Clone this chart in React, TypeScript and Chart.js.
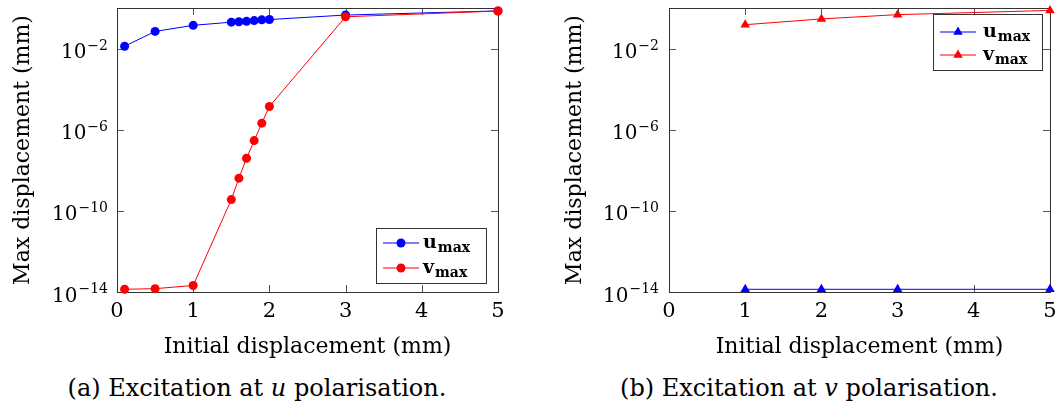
import React, { useEffect, useRef } from 'react';
import { Chart, registerables } from 'chart.js';

Chart.register(...registerables);

// ---------- data ----------
const xTickValues = [0, 1, 2, 3, 4, 5];
const yTickValues = [1e-14, 1e-10, 1e-6, 1e-2];
const yMin = 1e-14;
const yMax = 1;
const xMin = 0;
const xMax = 5;

// (a) excitation at u
const xA = [0.1, 0.5, 1, 1.5, 1.6, 1.7, 1.8, 1.9, 2, 3, 5];
const uA = [1.3e-2, 7e-2, 0.14, 0.2, 0.21, 0.22, 0.24, 0.26, 0.27, 0.45, 0.72];
const vA = [1.36e-14, 1.46e-14, 2.1e-14, 3.6e-10, 4.1e-9, 3.9e-8, 2.9e-7, 2.1e-6, 1.4e-5, 0.37, 0.71];

// (b) excitation at v
const xB = [1, 2, 3, 5];
const uB = [1.36e-14, 1.36e-14, 1.36e-14, 1.36e-14];
const vB = [0.15, 0.29, 0.47, 0.76];

const seriesNames = ['u', 'v'];
const seriesSub = 'max';
const xTitle = 'Initial displacement (mm)';
const yTitle = 'Max displacement (mm)';
const captionA = ['(a) Excitation at ', 'u', ' polarisation.'];
const captionB = ['(b) Excitation at ', 'v', ' polarisation.'];

// ---------- style ----------
const FONT = '"DejaVu Serif", serif';
const BLUE = '#0000ff';
const RED = '#ff0000';
const FRAME = '#333333';

const framePlugin = {
  id: 'frame',
  beforeDatasetsDraw(chart: any, _a: any, opts: any) {
    const { ctx, chartArea: ca, scales } = chart;
    const L = 7;
    ctx.save();
    ctx.lineWidth = 1;
    ctx.strokeStyle = '#555555';
    ctx.beginPath();
    for (const v of xTickValues) {
      const x = Math.round(scales.x.getPixelForValue(v)) + 0.5;
      ctx.moveTo(x, ca.bottom);
      ctx.lineTo(x, ca.bottom - L);
      ctx.moveTo(x, ca.top);
      ctx.lineTo(x, ca.top + L);
    }
    for (const v of yTickValues) {
      const y = Math.round(scales.y.getPixelForValue(v)) + 0.5;
      ctx.moveTo(ca.left, y);
      ctx.lineTo(ca.left + L, y);
      ctx.moveTo(ca.right, y);
      ctx.lineTo(ca.right - L, y);
    }
    ctx.stroke();
    ctx.strokeStyle = FRAME;
    ctx.strokeRect(
      Math.round(ca.left) + 0.5,
      Math.round(ca.top) + 0.5,
      Math.round(ca.right) - Math.round(ca.left),
      Math.round(ca.bottom) - Math.round(ca.top)
    );

    // y tick labels: 10^e with a real superscript
    const pad = opts.yTickPad || 9;
    ctx.fillStyle = '#000000';
    ctx.textBaseline = 'alphabetic';
    ctx.textAlign = 'left';
    for (const v of yTickValues) {
      const y = scales.y.getPixelForValue(v);
      const e = Math.round(Math.log10(v));
      const sup = (e < 0 ? '\u2212' : '') + String(Math.abs(e));
      ctx.font = '20px ' + FONT;
      const wMain = ctx.measureText('10').width;
      ctx.font = '14px ' + FONT;
      const wSup = ctx.measureText(sup).width;
      const right = ca.left - pad;
      const x0 = right - wSup - wMain - 1;
      ctx.font = '20px ' + FONT;
      ctx.fillText('10', x0, y + 9.5);
      ctx.font = '14px ' + FONT;
      ctx.fillText(sup, x0 + wMain + 1, y + 1);
    }
    ctx.restore();
  },
};

function drawMarker(ctx: CanvasRenderingContext2D, style: string, x: number, y: number, r: number, color: string) {
  ctx.fillStyle = color;
  ctx.beginPath();
  if (style === 'triangle') {
    let rad = 0;
    const T = (2 * Math.PI) / 3;
    ctx.moveTo(x + Math.sin(rad) * r, y - Math.cos(rad) * r);
    rad += T;
    ctx.lineTo(x + Math.sin(rad) * r, y - Math.cos(rad) * r);
    rad += T;
    ctx.lineTo(x + Math.sin(rad) * r, y - Math.cos(rad) * r);
    ctx.closePath();
  } else {
    ctx.arc(x, y, r, 0, Math.PI * 2);
  }
  ctx.fill();
}

const legendPlugin = {
  id: 'boxLegend',
  afterDraw(chart: any, _args: any, opts: any) {
    const { ctx, chartArea: ca } = chart;
    const w = opts.w;
    const h = opts.h;
    const bx = Math.round(ca.right - opts.offR - w);
    const by = Math.round(opts.anchor === 'bottom' ? ca.bottom - opts.offB - h : ca.top + opts.offT);
    ctx.save();
    ctx.fillStyle = '#ffffff';
    ctx.fillRect(bx, by, w, h);
    ctx.strokeStyle = FRAME;
    ctx.lineWidth = 1;
    ctx.strokeRect(bx + 0.5, by + 0.5, w, h);
    chart.data.datasets.forEach((ds: any, i: number) => {
      const cy = by + opts.rows[i];
      ctx.strokeStyle = ds.borderColor;
      ctx.lineWidth = 1;
      ctx.beginPath();
      ctx.moveTo(bx + 7, cy);
      ctx.lineTo(bx + 43, cy);
      ctx.stroke();
      drawMarker(ctx, ds.pointStyle, bx + 25, cy, ds.pointStyle === 'triangle' ? 5.5 : 4.5, ds.borderColor);
      ctx.fillStyle = '#000000';
      ctx.textBaseline = 'alphabetic';
      ctx.textAlign = 'left';
      ctx.font = 'bold 19px ' + FONT;
      const tx = bx + opts.textX;
      ctx.fillText(ds.label, tx, cy + 5);
      const tw = ctx.measureText(ds.label).width;
      ctx.font = 'bold 14px ' + FONT;
      ctx.fillText(seriesSub, tx + tw + 1, cy + 9);
    });
    ctx.restore();
  },
};

type Geom = {
  yWidth: number;
  yTitlePad: number;
  yTickPad: number;
  padRight: number;
  legend: any;
};

function makeConfig(xs: number[], u: number[], v: number[], pointStyle: string, g: Geom): any {
  const r = pointStyle === 'triangle' ? 5.5 : 4.5;
  const tickFont = { family: FONT, size: 21 };
  const titleFont = { family: FONT, size: 22 };
  return {
    type: 'line',
    data: {
      datasets: [
        {
          label: seriesNames[0],
          data: xs.map((x, i) => ({ x, y: u[i] })),
          borderColor: BLUE,
          backgroundColor: BLUE,
          pointStyle,
          pointRadius: r,
          pointBorderWidth: 0,
          borderWidth: 1,
          order: 2,
          clip: false,
        },
        {
          label: seriesNames[1],
          data: xs.map((x, i) => ({ x, y: v[i] })),
          borderColor: RED,
          backgroundColor: RED,
          pointStyle,
          pointRadius: r,
          pointBorderWidth: 0,
          borderWidth: 1,
          order: 1,
          clip: false,
        },
      ],
    },
    options: {
      animation: false,
      responsive: false,
      events: [],
      layout: { padding: { top: 8, right: g.padRight, left: 0, bottom: 0 } },
      plugins: {
        legend: { display: false },
        tooltip: { enabled: false },
        boxLegend: g.legend,
        frame: { yTickPad: g.yTickPad },
      },
      scales: {
        x: {
          type: 'linear',
          min: xMin,
          max: xMax,
          afterBuildTicks: (s: any) => {
            s.ticks = xTickValues.map((value) => ({ value }));
          },
          grid: { display: false, drawTicks: false },
          border: { display: false },
          ticks: {
            font: tickFont,
            color: '#000',
            padding: 7,
            maxRotation: 0,
            autoSkip: false,
            callback: (val: any) => String(val),
          },
          title: {
            display: true,
            text: xTitle,
            font: titleFont,
            color: '#000',
            padding: { top: 4, bottom: 0 },
          },
          afterFit: (s: any) => {
            s.height = 68;
            s.paddingLeft = 0;
            s.paddingRight = 0;
          },
        },
        y: {
          type: 'logarithmic',
          min: yMin,
          max: yMax,
          afterBuildTicks: (s: any) => {
            s.ticks = yTickValues.map((value) => ({ value, major: true }));
          },
          grid: { display: false, drawTicks: false },
          border: { display: false },
          ticks: { display: false },
          title: {
            display: true,
            text: yTitle,
            font: titleFont,
            color: '#000',
            padding: { top: g.yTitlePad, bottom: 0 },
          },
          afterFit: (s: any) => {
            s.width = g.yWidth;
            s.paddingTop = 0;
            s.paddingBottom = 0;
          },
        },
      },
    },
    plugins: [framePlugin, legendPlugin],
  };
}

function Panel(props: {
  left: number;
  width: number;
  xs: number[];
  u: number[];
  v: number[];
  pointStyle: string;
  geom: Geom;
}) {
  const ref = useRef<HTMLCanvasElement | null>(null);
  useEffect(() => {
    if (!ref.current) return;
    const chart = new Chart(ref.current, makeConfig(props.xs, props.u, props.v, props.pointStyle, props.geom));
    return () => chart.destroy();
  }, []);
  return (
    <canvas
      ref={ref}
      width={props.width}
      height={360}
      style={{ position: 'absolute', left: props.left, top: 0, width: props.width, height: 360 }}
    />
  );
}

function Caption(props: { center: number; parts: string[] }) {
  return (
    <div
      style={{
        position: 'absolute',
        left: props.center - 250,
        width: 500,
        top: 374,
        textAlign: 'center',
        fontFamily: FONT,
        fontSize: 24,
        lineHeight: '29px',
        color: '#000',
        whiteSpace: 'nowrap',
      }}
    >
      {props.parts[0]}
      <i>{props.parts[1]}</i>
      {props.parts[2]}
    </div>
  );
}

export default function App() {
  return (
    <div
      style={{
        position: 'fixed',
        left: 0,
        top: 0,
        width: 1056,
        height: 409,
        background: '#fff',
        overflow: 'hidden',
      }}
    >
      <Panel
        left={0}
        width={530}
        xs={xA}
        u={uA}
        v={vA}
        pointStyle="circle"
        geom={{
          yWidth: 117,
          yTitlePad: 10,
          yTickPad: 9,
          padRight: 32,
          legend: { anchor: 'bottom', offR: 12, offB: 9, w: 110, h: 55, rows: [15, 40], textX: 47 },
        }}
      />
      <Panel
        left={540}
        width={516}
        xs={xB}
        u={uB}
        v={vB}
        pointStyle="triangle"
        geom={{
          yWidth: 129,
          yTitlePad: 22,
          yTickPad: 10,
          padRight: 6,
          legend: { anchor: 'top', offR: 8, offT: 6, w: 109, h: 56, rows: [18, 41], textX: 50 },
        }}
      />
      <Caption center={257} parts={captionA} />
      <Caption center={809} parts={captionB} />
    </div>
  );
}
